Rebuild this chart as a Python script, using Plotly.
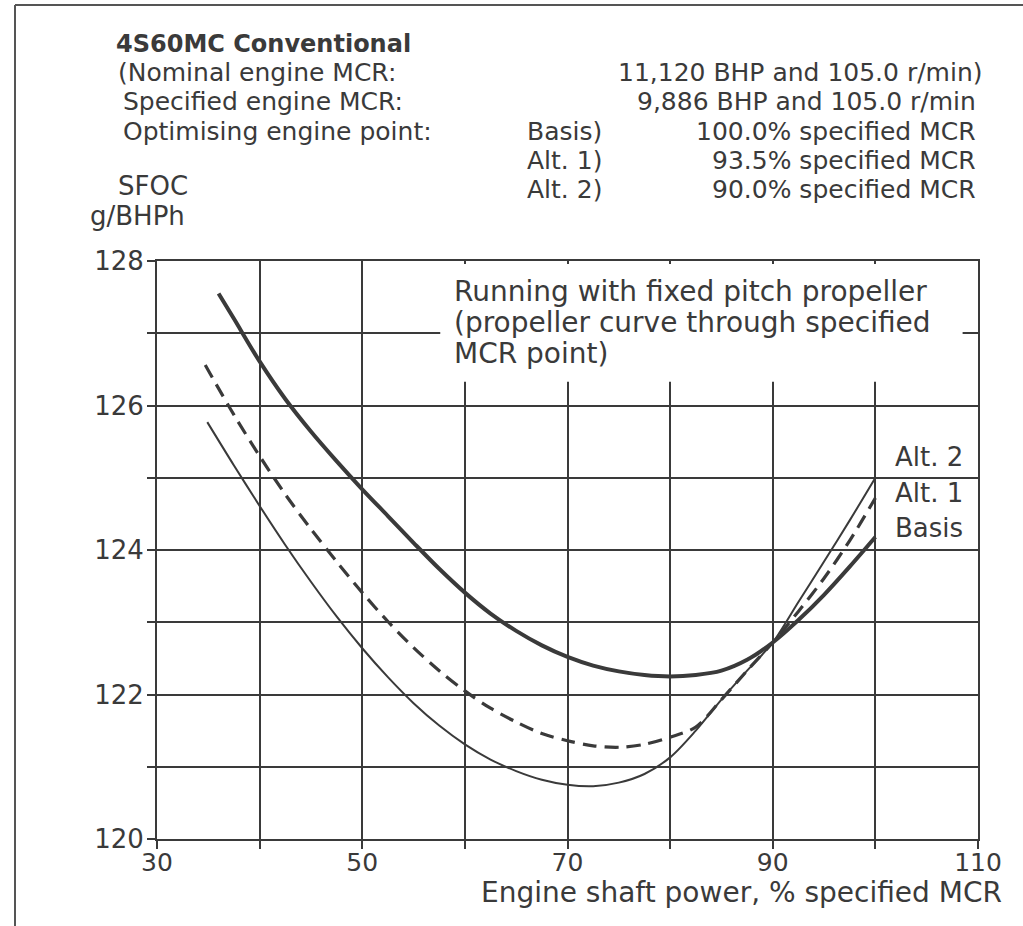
import plotly.graph_objects as go

# ---------------- data ----------------
x_ticks = [30, 40, 50, 60, 70, 80, 90, 100, 110]
x_tick_text = ["30", "", "50", "", "70", "", "90", "", "110"]
y_ticks = [120, 121, 122, 123, 124, 125, 126, 127, 128]
y_tick_text = ["120", "", "122", "", "124", "", "126", "", "128"]

basis_x = [36, 37.5, 40, 42.5, 45, 47.5, 50, 52.5, 55, 57.5, 60, 62.5, 65, 67.5, 70, 72.5, 75,
           77.5, 80, 82.5, 85, 87.5, 90, 92.5, 95, 97.5, 100]
basis_y = [127.55, 127.2, 126.61, 126.09, 125.64, 125.23, 124.84, 124.47, 124.1, 123.74, 123.41,
           123.12, 122.88, 122.68, 122.52, 122.4, 122.32, 122.27, 122.25, 122.27, 122.33, 122.48,
           122.72, 123.03, 123.38, 123.77, 124.18]

alt1_x = [34.7, 37.5, 40, 42.5, 45, 47.5, 50, 52.5, 55, 57.5, 60, 62.5, 65, 67.5, 70, 72.5, 75,
          77.5, 80, 82.5, 85, 87.5, 90, 92.5, 95, 97.5, 100]
alt1_y = [126.56, 125.87, 125.3, 124.77, 124.29, 123.84, 123.41, 123.01, 122.65, 122.33, 122.05,
          121.81, 121.62, 121.46, 121.36, 121.29, 121.27, 121.31, 121.41, 121.55, 121.93, 122.33,
          122.72, 123.15, 123.61, 124.13, 124.72]

alt2_x = [34.9, 37.5, 40, 42.5, 45, 47.5, 50, 52.5, 55, 57.5, 60, 62.5, 65, 67.5, 70, 72.5, 75,
          77.5, 80, 82.5, 85, 87.5, 90, 92.5, 95, 97.5, 100]
alt2_y = [125.77, 125.17, 124.61, 124.07, 123.56, 123.08, 122.64, 122.24, 121.88, 121.57, 121.31,
          121.1, 120.94, 120.82, 120.75, 120.73, 120.78, 120.9, 121.13, 121.5, 121.93, 122.33,
          122.72, 123.28, 123.84, 124.41, 125.0]

header_left = [
    ("4S60MC Conventional", 114, 44, True),
    ("(Nominal engine MCR:", 116, 73, False),
    ("Specified engine MCR:", 121, 102, False),
    ("Optimising engine point:", 121, 131, False),
    ("Basis)", 525, 131, False),
    ("Alt. 1)", 525, 160, False),
    ("Alt. 2)", 525, 189, False),
]
header_right = [
    ("11,120 BHP and 105.0 r/min)", 985, 73),
    ("9,886 BHP and 105.0 r/min", 978, 102),
    ("100.0% specified MCR", 978, 131),
    ("93.5% specified MCR", 978, 160),
    ("90.0% specified MCR", 978, 189),
]
note_lines = [
    ("Running with fixed pitch propeller", 291),
    ("(propeller curve through specified", 322),
    ("MCR point)", 353),
]
curve_labels = [("Alt. 2", 457), ("Alt. 1", 493), ("Basis", 528)]

# ---------------- layout constants ----------------
W, H = 1023, 926
L, R, T, B = 157, 978, 261, 839
INK = "#3a3a3a"
FONT = "DejaVu Sans"


def px(x):
    return (x - L) / (R - L)


def py(y):
    return (B - y) / (B - T)


fig = go.Figure()
fig.add_trace(go.Scatter(x=alt2_x, y=alt2_y, mode="lines", name="Alt. 2",
                         line=dict(color=INK, width=2, shape="spline", smoothing=0.9)))
fig.add_trace(go.Scatter(x=alt1_x, y=alt1_y, mode="lines", name="Alt. 1",
                         line=dict(color=INK, width=3.2, dash="14px,8px", shape="spline", smoothing=0.9)))
fig.add_trace(go.Scatter(x=basis_x, y=basis_y, mode="lines", name="Basis",
                         line=dict(color=INK, width=4, shape="spline", smoothing=0.9)))

axis_common = dict(showgrid=True, gridcolor=INK, gridwidth=2, showline=True, linecolor=INK,
                   linewidth=2, mirror=True, ticks="outside", ticklen=8, tickwidth=2,
                   tickcolor=INK, zeroline=False, fixedrange=True)

fig.update_layout(
    width=W, height=H, margin=dict(l=L, r=W - R, t=T, b=H - B, pad=0),
    paper_bgcolor="white", plot_bgcolor="white", showlegend=False,
    xaxis=dict(range=[30, 110], tickvals=x_ticks, ticktext=x_tick_text, ticklabelstandoff=-8,
               tickfont=dict(family=FONT, size=25, color=INK), **axis_common),
    yaxis=dict(range=[120, 128], tickvals=y_ticks, ticktext=y_tick_text, ticklabelstandoff=-2,
               tickfont=dict(family=FONT, size=26, color=INK), **axis_common),
)

# white mask hiding grid lines behind the note text
fig.add_shape(type="rect", xref="x", yref="y", x0=57.6, x1=108.5, y0=126.33, y1=127.96,
              fillcolor="white", line=dict(width=0), layer="between")

# outer frame of the scanned page (left and top edges)
fig.add_shape(type="line", xref="paper", yref="paper", x0=px(15), x1=px(15), y0=py(5), y1=py(H),
              line=dict(color="#555555", width=2))
fig.add_shape(type="line", xref="paper", yref="paper", x0=px(15), x1=px(W), y0=py(5), y1=py(5),
              line=dict(color="#555555", width=2))

annotations = []
for text, x, y, bold in header_left:
    annotations.append(dict(text=f"<b>{text}</b>" if bold else text, x=px(x), y=py(y),
                            xanchor="left", yanchor="middle",
                            font=dict(family=FONT, size=24 if bold else 25, color=INK)))
for text, x, y in header_right:
    annotations.append(dict(text=text, x=px(x), y=py(y), xanchor="right", yanchor="middle",
                            font=dict(family=FONT, size=25, color=INK)))
for text, y in note_lines:
    annotations.append(dict(text=text, x=px(452), y=py(y), xanchor="left", yanchor="middle",
                            font=dict(family=FONT, size=28, color=INK)))
for text, y in curve_labels:
    annotations.append(dict(text=text, x=px(893), y=py(y), xanchor="left", yanchor="middle",
                            font=dict(family=FONT, size=26, color=INK)))
annotations.append(dict(text="SFOC", x=px(116), y=py(186), xanchor="left", yanchor="middle",
                        font=dict(family=FONT, size=26, color=INK)))
annotations.append(dict(text="g/BHPh", x=px(88), y=py(216), xanchor="left", yanchor="middle",
                        font=dict(family=FONT, size=26, color=INK)))
annotations.append(dict(text="Engine shaft power, % specified MCR", x=px(1004), y=py(892),
                        xanchor="right", yanchor="middle",
                        font=dict(family=FONT, size=28, color=INK)))
for a in annotations:
    a.update(xref="paper", yref="paper", showarrow=False)
fig.update_layout(annotations=annotations)

fig.write_html("out.html")
